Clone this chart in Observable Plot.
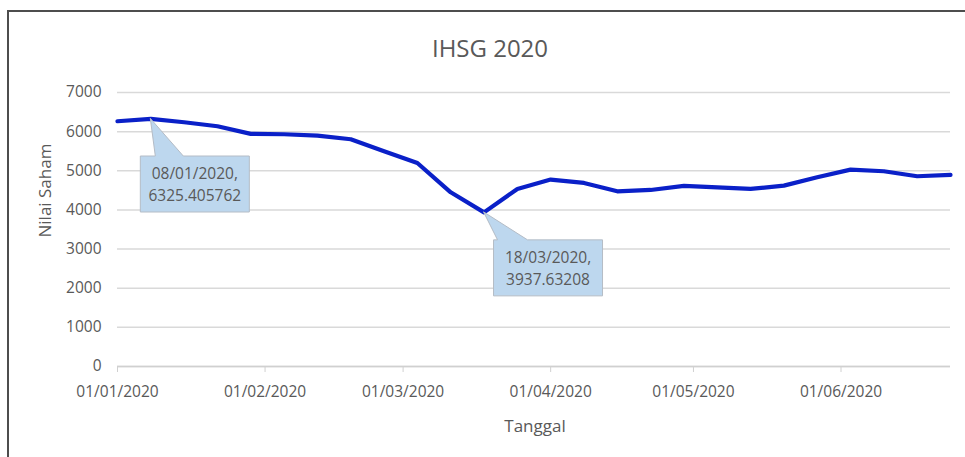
<!DOCTYPE html>
<html>
<head>
<meta charset="utf-8">
<script src="https://cdn.jsdelivr.net/npm/d3@7"></script>
<script src="https://cdn.jsdelivr.net/npm/@observablehq/plot@0.6"></script>
<style>
  body { margin: 0; background: #fff; }
  #wrap { position: relative; width: 965px; height: 457px; overflow: hidden; background: #fff; font-family: "Open Sans", sans-serif; }
  #frame { position: absolute; left: 7px; top: 10px; width: 970px; height: 460px; border-top: 2px solid #4d4d4d; border-left: 2px solid #4d4d4d; }
  #title { position: absolute; top: 34px; left: 15px; width: 950px; text-align: center; font-size: 24px; line-height: 28px; color: #595959; }
  #chart { position: absolute; top: 70px; left: 0; }
</style>
</head>
<body>
<div id="wrap">
  <div id="frame"></div>
  <div id="title">IHSG 2020</div>
  <div id="chart"></div>
</div>
<script>
// ---- data ----
const dates = [
  "2020-01-01", "2020-01-08", "2020-01-15", "2020-01-22", "2020-01-29",
  "2020-02-05", "2020-02-12", "2020-02-19", "2020-02-26",
  "2020-03-04", "2020-03-11", "2020-03-18", "2020-03-25",
  "2020-04-01", "2020-04-08", "2020-04-15", "2020-04-22", "2020-04-29",
  "2020-05-06", "2020-05-13", "2020-05-20", "2020-05-27",
  "2020-06-03", "2020-06-10", "2020-06-17", "2020-06-24"
];
const values = [
  6266, 6325.405762, 6240, 6138, 5944,
  5934, 5900, 5805, 5500,
  5200, 4450, 3937.63208, 4537,
  4775, 4690, 4476, 4510, 4613,
  4578, 4537, 4621, 4834,
  5030, 4988, 4860, 4895
];
const xTickDates = ["2020-01-01", "2020-02-01", "2020-03-01", "2020-04-01", "2020-05-01", "2020-06-01"];
const xTickLabels = ["01/01/2020", "01/02/2020", "01/03/2020", "01/04/2020", "01/05/2020", "01/06/2020"];
const yTicks = [0, 1000, 2000, 3000, 4000, 5000, 6000, 7000];
const calloutDates = ["2020-01-08", "2020-03-18"];
const calloutValues = [6325.405762, 3937.63208];
const calloutLines = [["08/01/2020,", "6325.405762"], ["18/03/2020,", "3937.63208"]];

// ---- build ----
const parse = s => new Date(s + "T00:00:00Z");
const table = dates.map((d, i) => ({ date: parse(d), value: values[i] }));
const tickDates = xTickDates.map(parse);
const labelOf = new Map(tickDates.map((d, i) => [+d, xTickLabels[i]]));

// callout geometry (pixel offsets from the data point) — style only
const calloutStyle = [
  { dx: -10, dy: 37.6, w: 109, h: 56, b0: 5, b1: 33 },
  { dx: 10, dy: 28, w: 109, h: 56, b0: 14, b1: 44 }
];

function callouts(index, scales) {
  const g = d3.create("svg:g");
  calloutDates.forEach((d, i) => {
    const px = scales.x(parse(d));
    const py = scales.y(calloutValues[i]);
    const s = calloutStyle[i];
    const L = px + s.dx, T = py + s.dy, R = L + s.w, B = T + s.h;
    const path = [
      [L, T], [px + s.b0, T], [px, py], [px + s.b1, T], [R, T], [R, B], [L, B]
    ];
    g.append("path")
      .attr("d", "M" + path.map(p => p.join(",")).join("L") + "Z")
      .attr("fill", "#BDD7EE")
      .attr("stroke", "#B4BCC6")
      .attr("stroke-width", 1);
    calloutLines[i].forEach((t, j) => {
      g.append("text")
        .attr("x", (L + R) / 2)
        .attr("y", T + 19 + j * 22)
        .attr("text-anchor", "middle")
        .attr("dominant-baseline", "middle")
        .attr("fill", "#595959")
        .attr("font-family", "Open Sans")
        .attr("font-size", "15.5px")
        .text(t);
    });
  });
  return g.node();
}

const chart = Plot.plot({
  width: 965,
  height: 387,
  marginLeft: 117,
  marginRight: 15,
  marginTop: 22,
  marginBottom: 91,
  style: { fontFamily: "Open Sans", fontSize: "15.5px", color: "#595959", background: "transparent", overflow: "visible" },
  x: { type: "utc", domain: [parse(dates[0]), parse(dates[dates.length - 1])] },
  y: { domain: [0, 7000] },
  marks: [
    Plot.gridY(yTicks, { stroke: "#D9D9D9", strokeOpacity: 1, strokeWidth: 1.5 }),
    Plot.ruleY([0], { stroke: "#D0D0D0", strokeWidth: 1.5 }),
    Plot.axisY({ ticks: yTicks, tickSize: 0, tickPadding: 16, tickFormat: d => String(d), label: null, fill: "#595959" }),
    Plot.axisX({ ticks: tickDates, tickSize: 6, tickPadding: 13, tickFormat: d => labelOf.get(+d), label: null, stroke: "#D0D0D0", fill: "#595959" }),
    Plot.text(["Nilai Saham"], { frameAnchor: "left", dx: -72, dy: 8, rotate: -90, fill: "#595959", fontSize: 17, lineAnchor: "middle" }),
    Plot.text(["Tanggal"], { frameAnchor: "bottom", dx: 1, dy: 60, fill: "#595959", fontSize: 17, lineAnchor: "middle" }),
    Plot.line(table, { x: "date", y: "value", stroke: "#0A20C8", strokeWidth: 4.2, strokeLinejoin: "round", strokeLinecap: "round" }),
    callouts
  ]
});
document.getElementById("chart").appendChild(chart);
</script>
</body>
</html>
